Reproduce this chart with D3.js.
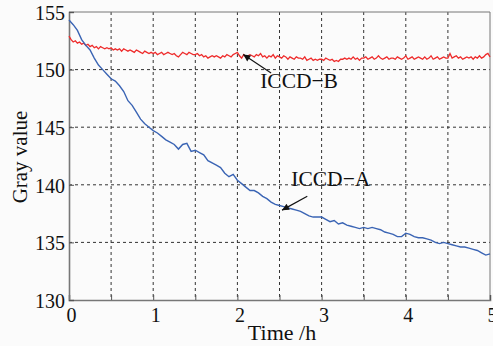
<!DOCTYPE html>
<html><head><meta charset="utf-8">
<script src="https://cdn.jsdelivr.net/npm/d3@7"></script>
<style>html,body{margin:0;padding:0;background:#fbfbfb;}svg{display:block;}</style>
</head><body>
<svg id="c" width="493" height="346"></svg>
<script>
const xTicks = [0, 1, 2, 3, 4, 5];
const yTicks = [130, 135, 140, 145, 150, 155];
const xGrid = [0.5, 1, 1.5, 2, 2.5, 3, 3.5, 4, 4.5];
const yGrid = [135, 140, 145, 150];

const timeA = d3.range(0, 101).map(i => i * 0.05);
const grayA = [
 154.3,153.9,153.4,152.6,152.1,151.7,151.0,150.4,150.0,149.6,
 149.2,149.0,148.6,148.1,147.3,146.9,146.3,145.7,145.3,145.0,
 144.7,144.5,144.2,143.9,143.7,143.5,143.1,143.5,143.6,142.9,
 143.0,142.8,142.6,142.1,141.9,141.7,141.5,141.0,140.7,140.9,
 140.4,140.1,139.8,139.5,139.5,139.3,139.0,138.8,138.5,138.3,
 138.2,138.1,138.0,137.9,137.8,137.7,137.5,137.3,137.2,137.2,
 137.2,137.0,136.8,136.9,136.6,136.7,136.5,136.4,136.3,136.2,
 136.3,136.2,136.3,136.2,136.1,135.9,135.8,135.7,135.5,135.5,
 135.8,135.7,135.5,135.4,135.4,135.3,135.2,135.0,134.9,135.0,
 134.9,134.8,134.7,134.6,134.6,134.5,134.4,134.3,134.1,133.9,
 134.0
];

const timeB = d3.range(0, 201).map(i => i * 0.025);
const grayB = [
 152.9,152.6,152.4,152.5,152.3,152.4,152.2,152.3,152.1,152.2,
 152.0,152.1,151.9,152.0,151.8,152.0,151.9,151.8,151.9,151.8,
 151.9,151.7,151.8,151.7,151.8,151.6,151.8,151.7,151.6,151.7,
 151.6,151.5,151.7,151.6,151.5,151.4,151.6,151.5,151.4,151.5,
 151.4,151.5,151.3,151.4,151.5,151.3,151.4,151.5,151.4,151.3,
 151.4,151.2,151.1,151.3,151.5,151.4,151.3,151.5,151.4,151.3,
 151.3,151.4,151.2,151.3,151.1,151.2,151.0,151.1,151.2,151.1,
 151.2,151.1,151.0,151.2,151.1,151.3,151.2,151.1,151.3,151.4,
 151.5,151.2,151.0,151.3,151.1,151.2,151.3,151.2,151.1,151.3,
 151.2,151.4,151.1,151.2,151.0,151.2,151.1,151.3,151.0,151.2,
 151.1,151.0,151.2,151.1,150.9,151.1,151.0,150.9,151.1,151.0,
 151.0,150.9,151.1,150.8,150.9,151.0,150.8,150.9,150.8,150.9,
 150.9,150.8,151.0,150.9,150.8,150.9,150.7,150.8,150.7,150.9,
 150.9,151.0,150.9,151.0,150.9,151.1,150.9,151.0,150.8,151.0,
 151.0,151.1,150.9,151.0,151.1,150.9,151.0,151.2,151.0,150.9,
 151.0,151.1,150.9,151.0,151.0,150.9,151.1,151.0,150.9,151.0,
 151.2,150.9,151.0,151.1,150.9,151.0,151.1,151.0,150.9,151.1,
 150.9,151.0,151.2,150.9,151.0,151.1,150.9,151.0,151.1,151.0,
 151.0,151.4,151.0,151.1,151.2,151.0,151.1,150.9,151.0,151.1,
 151.0,151.1,150.9,151.1,151.0,151.2,151.0,151.1,151.3,151.4,
 151.1
];

const labels = [
  {text: "ICCD\u2212B", t: 2.27, v: 148.4, tipT: 2.07, tipV: 151.3, fromT: 2.4, fromV: 149.7},
  {text: "ICCD\u2212A", t: 2.64, v: 139.9, tipT: 2.53, tipV: 137.8, fromT: 2.83, fromV: 139.0}
];

const L = 69, R = 490, T = 12, B = 300;
const x = d3.scaleLinear().domain([0, 5]).range([L, R]);
const y = d3.scaleLinear().domain([130, 155]).range([B, T]);
const svg = d3.select("#c");
const font = "'Liberation Serif', 'DejaVu Serif', serif";

svg.append("defs").append("marker").attr("id", "ah")
  .attr("viewBox", "0 0 10 10").attr("refX", 10).attr("refY", 5)
  .attr("markerWidth", 9).attr("markerHeight", 7).attr("markerUnits", "userSpaceOnUse")
  .attr("orient", "auto")
  .append("path").attr("d", "M0,0L10,5L0,10z").attr("fill", "#111");

// grid
svg.append("g").selectAll("line").data(xGrid).join("line")
  .attr("x1", d => x(d)).attr("x2", d => x(d)).attr("y1", T).attr("y2", B)
  .attr("stroke", "#333").attr("stroke-width", 1).attr("stroke-dasharray", "3,3");
svg.append("g").selectAll("line").data(yGrid).join("line")
  .attr("x1", L).attr("x2", R).attr("y1", d => y(d)).attr("y2", d => y(d))
  .attr("stroke", "#333").attr("stroke-width", 1).attr("stroke-dasharray", "3,3");

// frame top/right
svg.append("path").attr("d", `M${L},${T}H${R}V${B}`).attr("fill", "none")
  .attr("stroke", "#777").attr("stroke-width", 1);

// axes
const xAxis = d3.axisBottom(x).tickValues(d3.range(0, 5.01, 0.5)).tickSize(-5).tickFormat(d => xTicks.includes(d) ? d : "").tickPadding(8);
const gx = svg.append("g").attr("transform", `translate(0,${B})`).call(xAxis);
const yAxis = d3.axisLeft(y).tickValues(yTicks).tickSize(-5).tickPadding(4);
const gy = svg.append("g").attr("transform", `translate(${L},0)`).call(yAxis);
[gx, gy].forEach(g => {
  g.select(".domain").attr("stroke", "#777").attr("stroke-width", 1.6);
  g.selectAll(".tick line").attr("stroke", "#555").attr("stroke-width", 1);
  g.selectAll(".tick text").attr("font-family", font).attr("font-size", 20).attr("fill", "#111");
});
gx.selectAll(".tick text").attr("dy", "0.71em").attr("dx", 2);
gy.selectAll(".tick text").attr("dy", "0.36em");

// lines
const lineA = d3.line().x((d, i) => x(timeA[i])).y(d => y(d));
const lineB = d3.line().x((d, i) => x(timeB[i])).y(d => y(d));
svg.append("path").datum(grayB).attr("d", lineB).attr("fill", "none")
  .attr("stroke", "#ee2b2b").attr("stroke-width", 1.3);
svg.append("path").datum(grayA).attr("d", lineA).attr("fill", "none")
  .attr("stroke", "#3a64b4").attr("stroke-width", 1.4);

// annotations
labels.forEach(l => {
  svg.append("line").attr("x1", x(l.fromT)).attr("y1", y(l.fromV))
    .attr("x2", x(l.tipT)).attr("y2", y(l.tipV))
    .attr("stroke", "#111").attr("stroke-width", 1.2).attr("marker-end", "url(#ah)");
  svg.append("text").attr("x", x(l.t)).attr("y", y(l.v)).text(l.text)
    .attr("font-family", font).attr("font-size", 21.5).attr("fill", "#111");
});

// axis titles
svg.append("text").attr("x", 282).attr("y", 340).attr("text-anchor", "middle")
  .attr("font-family", font).attr("font-size", 22).attr("fill", "#111").text("Time /h");
svg.append("text").attr("transform", "translate(27,157) rotate(-90)").attr("text-anchor", "middle")
  .attr("font-family", font).attr("font-size", 21).attr("fill", "#111").text("Gray value");
</script>
</body></html>
